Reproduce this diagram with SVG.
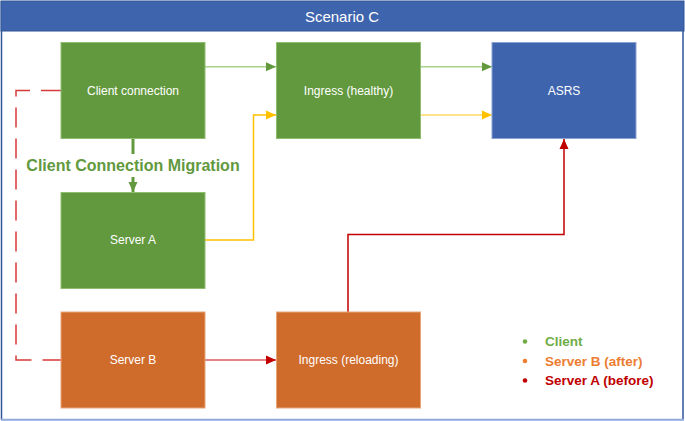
<svg xmlns="http://www.w3.org/2000/svg" width="685" height="421" viewBox="0 0 685 421">
  <style>
    .node-text { font-family: "Liberation Sans", Arial, sans-serif; font-size: 12px; fill: #ffffff; text-anchor: middle; }
    .green { fill: #62993e; stroke: #8fbf6e; stroke-width: 1; }
    .orange { fill: #d06c2b; stroke: #e8a57a; stroke-width: 1; }
    .blue { fill: #3e64ad; stroke: #8aa3d3; stroke-width: 1; }
    .legend { font-family: "Liberation Sans", Arial, sans-serif; font-size: 13.5px; font-weight: bold; }
    .conn { fill: none; stroke-width: 1.5; }
  </style>
  <defs>
    <marker id="ah-green" markerUnits="userSpaceOnUse" markerWidth="10" markerHeight="10" viewBox="0 0 10 10" refX="10" refY="5" orient="auto">
      <path d="M0,0.5 L10,5 L0,9.5 Z" fill="#62993e"/>
    </marker>
    <marker id="ah-yellow" markerUnits="userSpaceOnUse" markerWidth="10" markerHeight="10" viewBox="0 0 10 10" refX="10" refY="5" orient="auto">
      <path d="M0,0.5 L10,5 L0,9.5 Z" fill="#ffc000"/>
    </marker>
    <marker id="ah-red" markerUnits="userSpaceOnUse" markerWidth="10" markerHeight="10" viewBox="0 0 10 10" refX="10" refY="5" orient="auto">
      <path d="M0,0.5 L10,5 L0,9.5 Z" fill="#c00000"/>
    </marker>
  </defs>

  <!-- frame -->
  <rect x="0" y="0" width="685" height="421" fill="#ffffff"/>
  <g id="frame">
    <line x1="1.5" y1="1" x2="1.5" y2="420" stroke="#2f5597" stroke-width="1.5"/>
    <line x1="683" y1="1" x2="683" y2="420" stroke="#2f5597" stroke-width="1.5"/>
    <line x1="1" y1="419.8" x2="684" y2="419.8" stroke="#8ea9db" stroke-width="2"/>
    <rect x="1" y="1" width="683" height="30" fill="#3e64ad" stroke="#2f5597" stroke-width="1"/>
    <text x="342" y="21.5" font-family="&quot;Liberation Sans&quot;, Arial, sans-serif" font-size="15" fill="#ffffff" text-anchor="middle">Scenario C</text>
  </g>

  <g id="connectors">
    <line class="conn" x1="205" y1="66.7" x2="276" y2="66.7" stroke="#a9d18e" marker-end="url(#ah-green)"/>
    <line class="conn" x1="420.5" y1="66.7" x2="492" y2="66.7" stroke="#a9d18e" marker-end="url(#ah-green)"/>
    <polyline class="conn" points="205,240 253.5,240 253.5,115 276,115" stroke="#ffc000" marker-end="url(#ah-yellow)"/>
    <line class="conn" x1="420.5" y1="115" x2="492" y2="115" stroke="#ffd966" marker-end="url(#ah-yellow)"/>
    <line x1="133" y1="138.5" x2="133" y2="154" stroke="#62993e" stroke-width="3"/>
    <line x1="133" y1="177" x2="133" y2="192" stroke="#62993e" stroke-width="3" marker-end="url(#ah-green)"/>
    <polyline class="conn" points="61,90.5 16,90.5 16,360 61,360" stroke="#d63a3a" stroke-dasharray="20,11"/>
    <line class="conn" x1="205" y1="360" x2="276" y2="360" stroke="#e05a5a" marker-end="url(#ah-red)"/>
    <polyline class="conn" points="348,312 348,234.5 564,234.5 564,139" stroke="#c00000" marker-end="url(#ah-red)"/>
  </g>

  <text x="133" y="170.5" font-family="&quot;Liberation Sans&quot;, Arial, sans-serif" font-size="16" font-weight="bold" fill="#62993e" text-anchor="middle">Client Connection Migration</text>

  <g id="client-connection">
    <rect class="green" x="61" y="42.5" width="144" height="96"/>
    <text class="node-text" x="133" y="95">Client connection</text>
  </g>
  <g id="ingress-healthy">
    <rect class="green" x="276.5" y="42.5" width="144" height="96"/>
    <text class="node-text" x="348.5" y="95">Ingress (healthy)</text>
  </g>
  <g id="asrs">
    <rect class="blue" x="492" y="42.5" width="144" height="96"/>
    <text class="node-text" x="564" y="95">ASRS</text>
  </g>
  <g id="server-a">
    <rect class="green" x="61" y="192.5" width="144" height="96"/>
    <text class="node-text" x="133" y="244">Server A</text>
  </g>
  <g id="server-b">
    <rect class="orange" x="61" y="312" width="144" height="96"/>
    <text class="node-text" x="133" y="364">Server B</text>
  </g>
  <g id="ingress-reloading">
    <rect class="orange" x="276.5" y="312" width="144" height="96"/>
    <text class="node-text" x="348.5" y="364">Ingress (reloading)</text>
  </g>

  <g id="legend">
    <circle cx="525" cy="341.5" r="2.3" fill="#70ad47"/>
    <text class="legend" x="545" y="346" fill="#70ad47">Client</text>
    <circle cx="525" cy="361" r="2.3" fill="#ed7d31"/>
    <text class="legend" x="545" y="365.5" fill="#ed7d31">Server B (after)</text>
    <circle cx="525" cy="380.5" r="2.3" fill="#c00000"/>
    <text class="legend" x="545" y="385" fill="#c00000">Server A (before)</text>
  </g>
</svg>
